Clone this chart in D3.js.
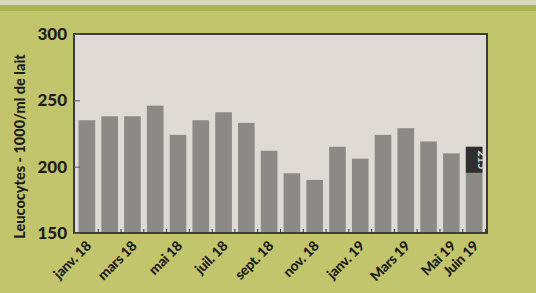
<!DOCTYPE html>
<html>
<head>
<meta charset="utf-8">
<script src="https://cdn.jsdelivr.net/npm/d3@7"></script>
<style>
  body { margin: 0; background: #c3c56c; }
  svg { display: block; }
</style>
</head>
<body>
<svg id="chart" width="536" height="293"></svg>
<script>
// months + leucocyte counts (x1000 / ml)
const months = ["janv. 18","févr. 18","mars 18","avr. 18","mai 18","juin 18","juil. 18","août 18","sept. 18",
                "oct. 18","nov. 18","déc. 18","janv. 19","févr. 19","Mars 19","avr. 19","Mai 19","Juin 19"];
const values = [235, 238, 238, 246, 224, 235, 241, 233, 212, 195, 190, 215, 206, 224, 229, 219, 210, 215];
const shownLabels = ["janv. 18","mars 18","mai 18","juil. 18","sept. 18","nov. 18","janv. 19","Mars 19","Mai 19","Juin 19"];
const yTicks = [150, 200, 250, 300];

const margin = {top: 34, right: 49, bottom: 60, left: 74};
const width = 536 - margin.left - margin.right;
const height = 293 - margin.top - margin.bottom;

const svg = d3.select("#chart");

// paper background: lighter strip at top
svg.append("rect").attr("width", 536).attr("height", 293).attr("fill", "#c3c56c");
svg.append("rect").attr("width", 536).attr("height", 5).attr("fill", "#d9d8b8");
svg.append("rect").attr("y", 5).attr("width", 536).attr("height", 6).attr("fill", "#adb553");

const g = svg.append("g").attr("transform", "translate(" + margin.left + "," + margin.top + ")");

const x = d3.scaleBand().domain(months).range([0, width]).paddingInner(0.27).paddingOuter(0.2);
const y = d3.scaleLinear().domain([150, 300]).range([height, 0]);

g.append("rect")
  .attr("width", width).attr("height", height)
  .attr("fill", "#dddbd3");

g.selectAll(".bar")
  .data(values)
  .enter().append("rect")
  .attr("class", "bar")
  .attr("x", (d, i) => x(months[i]))
  .attr("y", d => y(d))
  .attr("width", x.bandwidth())
  .attr("height", d => height - y(d))
  .attr("fill", "#8b8a87");

// value tag on the last bar
const last = values.length - 1;
g.append("rect")
  .attr("x", x(months[last]))
  .attr("y", y(values[last]))
  .attr("width", x.bandwidth())
  .attr("height", 26)
  .attr("fill", "#2e2e2e");
g.append("text")
  .attr("transform", "translate(" + (x(months[last]) + x.bandwidth() / 2 + 4) + "," + (y(values[last]) + 13) + ") rotate(90)")
  .attr("text-anchor", "middle")
  .attr("font-family", "Lato, sans-serif")
  .attr("font-weight", "bold")
  .attr("font-size", "11px")
  .attr("fill", "#d8d8d8")
  .text(values[last]);

// frame
g.append("rect")
  .attr("width", width).attr("height", height)
  .attr("fill", "none")
  .attr("stroke", "#3c3c3c")
  .attr("stroke-width", 2);

// y axis
const yAxis = g.append("g")
  .call(d3.axisLeft(y).tickValues(yTicks).tickSize(-6).tickPadding(7));
yAxis.select(".domain").remove();
yAxis.selectAll("line").attr("stroke", "#555");
yAxis.selectAll("text")
  .attr("font-family", "Lato, sans-serif")
  .attr("font-weight", "900")
  .attr("font-size", "17px")
  .attr("fill", "#1e1e1e");

// x axis
const xAxis = g.append("g")
  .attr("transform", "translate(0," + height + ")")
  .call(d3.axisBottom(x).tickSize(-4).tickFormat(d => shownLabels.includes(d) ? d : ""));
xAxis.select(".domain").remove();
xAxis.selectAll("line")
  .attr("stroke", "#333")
  .attr("transform", "translate(" + (x.step() / 2) + ",0)");
xAxis.selectAll("text")
  .attr("font-family", "Lato, sans-serif")
  .attr("font-weight", "900")
  .attr("font-size", "14px")
  .attr("letter-spacing", "-0.3px")
  .attr("fill", "#1e1e1e")
  .attr("text-anchor", "end")
  .attr("transform", "translate(-3,6) rotate(-45)")
  .attr("dy", "0.6em");

// y title
svg.append("text")
  .attr("transform", "translate(25," + (margin.top + height / 2 + 13) + ") rotate(-90)")
  .attr("text-anchor", "middle")
  .attr("font-family", "Lato, sans-serif")
  .attr("font-weight", "900")
  .attr("font-size", "14.5px")
  .attr("fill", "#1e1e1e")
  .text("Leucocytes - 1000/ml de lait");
</script>
</body>
</html>
